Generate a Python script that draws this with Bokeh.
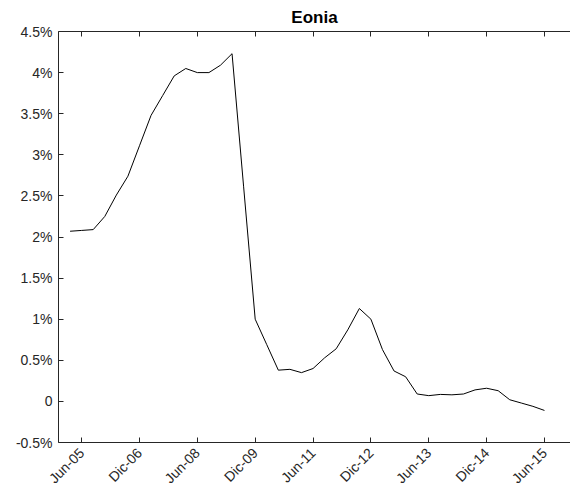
from math import pi
from bokeh.plotting import figure
from bokeh.models import LinearAxis, FixedTicker, Range1d
from bokeh.embed import file_html
from bokeh.resources import INLINE

# ---- data ----
x_idx = list(range(1, 43))
eonia = [2.07, 2.08, 2.09, 2.25, 2.51, 2.74, 3.11, 3.48, 3.72, 3.96,
         4.05, 4.00, 4.00, 4.09, 4.23, 2.61, 1.00, 0.69, 0.38, 0.39,
         0.35, 0.40, 0.53, 0.64, 0.87, 1.13, 1.00, 0.63, 0.37, 0.30,
         0.09, 0.07, 0.085, 0.08, 0.09, 0.14, 0.16, 0.13, 0.02, -0.02,
         -0.06, -0.11]
x_tick_pos = [2, 7, 12, 17, 22, 27, 32, 37, 42]
x_tick_labels = ["Jun-05", "Dic-06", "Jun-08", "Dic-09", "Jun-11",
                 "Dic-12", "Jun-13", "Dic-14", "Jun-15"]
y_tick_pos = [-0.5, 0, 0.5, 1, 1.5, 2, 2.5, 3, 3.5, 4, 4.5]
y_tick_labels = ["-0.5%", "0", "0.5%", "1%", "1.5%", "2%", "2.5%",
                 "3%", "3.5%", "4%", "4.5%"]
title_text = "Eonia"

FONT = "Liberation Sans"
AX = "#262626"

p = figure(width=570, height=495, output_backend="svg", toolbar_location=None,
           x_range=Range1d(0, 44.25), y_range=Range1d(-0.5, 4.5),
           min_border_left=58, min_border_right=0, min_border_top=31,
           min_border_bottom=53, title=title_text)
p.title.align = "center"
p.title.text_font = FONT
p.title.text_font_size = "17px"
p.title.text_font_style = "bold"
p.title.text_color = "#000000"
p.outline_line_color = None
p.xgrid.visible = False
p.ygrid.visible = False
p.background_fill_color = "white"
p.border_fill_color = "white"

p.line(x_idx, eonia, line_color="black", line_width=1.0)

xa = p.xaxis[0]
xa.ticker = FixedTicker(ticks=x_tick_pos, minor_ticks=[])
xa.major_label_overrides = {t: l for t, l in zip(x_tick_pos, x_tick_labels)}
xa.major_label_orientation = pi / 4
xa.major_tick_in = 5
xa.major_tick_out = 0
xa.minor_tick_line_color = None
xa.axis_line_color = AX
xa.major_tick_line_color = AX
xa.major_label_text_color = AX
xa.major_label_text_font = FONT
xa.major_label_text_font_size = "14px"
xa.major_label_standoff = 8

ya = p.yaxis[0]
ya.ticker = FixedTicker(ticks=y_tick_pos, minor_ticks=[])
ya.major_label_overrides = {t: l for t, l in zip(y_tick_pos, y_tick_labels)}
ya.major_tick_in = 5
ya.major_tick_out = 0
ya.minor_tick_line_color = None
ya.axis_line_color = AX
ya.major_tick_line_color = AX
ya.major_label_text_color = AX
ya.major_label_text_font = FONT
ya.major_label_text_font_size = "14px"
ya.major_label_standoff = 6

top = LinearAxis(ticker=FixedTicker(ticks=x_tick_pos, minor_ticks=[]))
top.major_tick_in = 5
top.major_tick_out = 0
top.minor_tick_line_color = None
top.axis_line_color = AX
top.major_tick_line_color = AX
top.major_label_overrides = {t: "" for t in x_tick_pos}
top.major_label_standoff = 0
p.add_layout(top, "above")

open("out.html", "w").write(file_html(p, INLINE))
